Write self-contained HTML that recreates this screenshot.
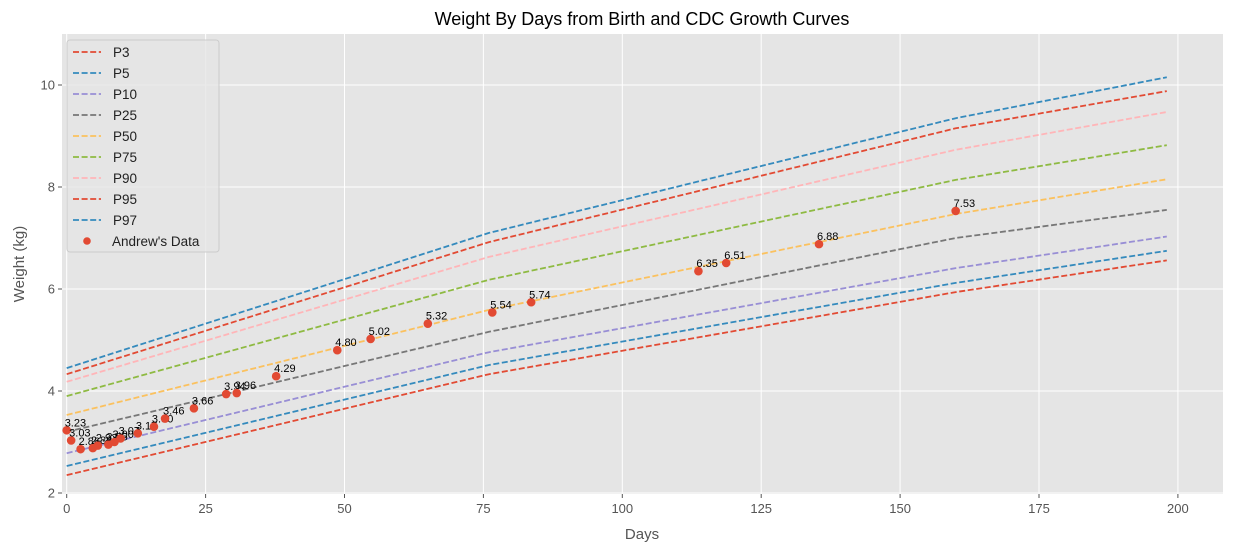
<!DOCTYPE html>
<html><head><meta charset="utf-8"><style>
body{margin:0;background:#fff;}
svg text{font-family:"Liberation Sans","DejaVu Sans",sans-serif;}
</style></head><body>
<svg id="chart" width="1233" height="552" xmlns="http://www.w3.org/2000/svg">
<text x="642" y="25" font-size="18" text-anchor="middle" fill="#000">Weight By Days from Birth and CDC Growth Curves</text>
<rect x="62" y="34" width="1161" height="460" fill="#e5e5e5"/>
<g id="grid"></g>
<g id="ticks"></g>
<g id="curves"></g>
<g id="points"></g>
<text x="642" y="539" font-size="15" text-anchor="middle" fill="#555">Days</text>
<text x="24" y="264" font-size="15" text-anchor="middle" fill="#555" transform="rotate(-90 24 264)">Weight (kg)</text>
<g id="legend"></g>
</svg>
<script>
const curveNames=["P3","P5","P10","P25","P50","P75","P90","P95","P97"];
const curveColors=["#E24A33","#348ABD","#988ED5","#777777","#FBC15E","#8EBA42","#FFB5B8","#E24A33","#348ABD"];
const curveDays=[0,76,160,198];
const P3=[2.35,4.33,5.94,6.56];
const P5=[2.53,4.51,6.12,6.75];
const P10=[2.78,4.76,6.41,7.03];
const P25=[3.20,5.16,7.00,7.55];
const P50=[3.53,5.59,7.47,8.15];
const P75=[3.90,6.18,8.14,8.82];
const P90=[4.18,6.63,8.73,9.47];
const P95=[4.33,6.92,9.15,9.88];
const P97=[4.45,7.10,9.35,10.15];
const curveValues=[P3,P5,P10,P25,P50,P75,P90,P95,P97];
const dataDays=[0,0.8,2.5,4.7,5.6,7.5,8.6,9.7,12.8,15.7,17.7,22.9,28.7,30.6,37.7,48.7,54.7,65,76.6,83.6,113.7,118.7,135.4,160];
const dataWeights=[3.23,3.03,2.86,2.88,2.93,2.95,3.00,3.07,3.17,3.30,3.46,3.66,3.94,3.96,4.29,4.80,5.02,5.32,5.54,5.74,6.35,6.51,6.88,7.53];
const xTicks=[0,25,50,75,100,125,150,175,200];
const yTicks=[2,4,6,8,10];

const NS="http://www.w3.org/2000/svg";
const X=d=>66.7+d*5.556;
const Y=v=>493-(v-2)*51;
function mk(tag,attrs,parent){const e=document.createElementNS(NS,tag);for(const k in attrs)e.setAttribute(k,attrs[k]);parent.appendChild(e);return e;}
const grid=document.getElementById('grid'),ticks=document.getElementById('ticks');
xTicks.forEach(t=>{
  const l=mk('line',{x1:X(t),x2:X(t),y1:34,y2:494,stroke:'#fff','stroke-width':1},grid);
  
  
  mk('line',{x1:X(t),x2:X(t),y1:494,y2:498,stroke:'#555'},ticks);
  const tx=mk('text',{x:X(t),y:513,'font-size':13,'text-anchor':'middle',fill:'#555'},ticks);
  tx.textContent=t;
  
  
});
yTicks.forEach(t=>{
  const l=mk('line',{x1:62,x2:1223,y1:Y(t),y2:Y(t),stroke:'#fff','stroke-width':1},grid);
  
  
  mk('line',{x1:58,x2:62,y1:Y(t),y2:Y(t),stroke:'#555'},ticks);
  const tx=mk('text',{x:55,y:Y(t)+4.5,'font-size':13,'text-anchor':'end',fill:'#555'},ticks);
  tx.textContent=t;
  
  
});
const curves=document.getElementById('curves');
curveValues.forEach((vals,i)=>{
  const pts=vals.map((v,j)=>X(curveDays[j]).toFixed(1)+','+Y(v).toFixed(1)).join(' ');
  const p=mk('polyline',{points:pts,fill:'none',stroke:curveColors[i],'stroke-width':1.8,'stroke-dasharray':'6,2.6'},curves);
  
  
});
const pg=document.getElementById('points');
dataDays.forEach((d,i)=>{
  const c=mk('circle',{cx:X(d),cy:Y(dataWeights[i]),r:4.3,fill:'#E24A33'},pg);
  
  
  const t=mk('text',{x:X(d)-2,y:Y(dataWeights[i])-4,'font-size':11,fill:'#000'},pg);
  t.textContent=dataWeights[i].toFixed(2);
  
  
});
const lg=document.getElementById('legend');
const box=mk('rect',{x:67,y:40,width:152,height:212,rx:3,fill:'#e5e5e5','fill-opacity':0.8,stroke:'#ccc'},lg);


curveNames.forEach((n,i)=>{
  const y=52+i*21;
  const l=mk('line',{x1:73,x2:101,y1:y,y2:y,stroke:curveColors[i],'stroke-width':1.8,'stroke-dasharray':'6,2.6'},lg);
  
  
  const t=mk('text',{x:113,y:y+5,'font-size':13.5,fill:'#222'},lg);
  t.textContent=n;
  
  
});
const lc=mk('circle',{cx:87,cy:241,r:3.8,fill:'#E24A33'},lg);


const lt=mk('text',{x:112,y:246,'font-size':13.5,fill:'#222'},lg);
lt.textContent="Andrew's Data";


</script>
</body></html>
